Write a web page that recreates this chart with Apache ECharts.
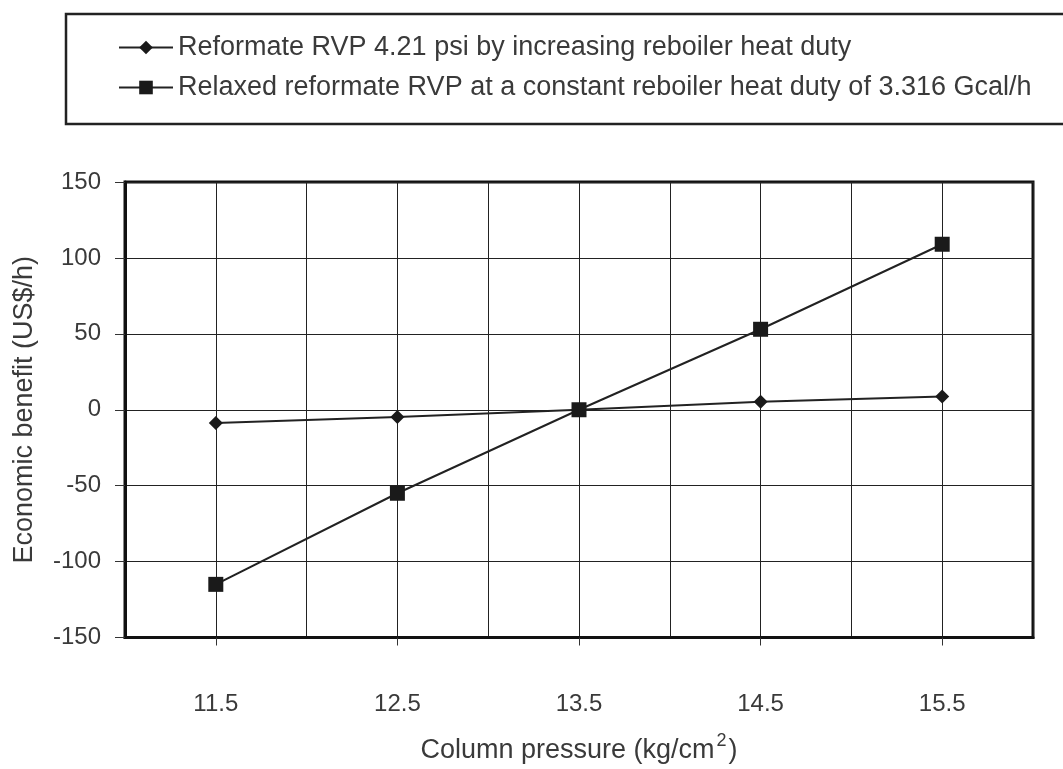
<!DOCTYPE html>
<html>
<head>
<meta charset="utf-8">
<script src="https://cdn.jsdelivr.net/npm/echarts@6/dist/echarts.min.js"></script>
<style>
html,body{margin:0;padding:0;background:#fff;}
#c{width:1063px;height:769px;}
</style>
</head>
<body>
<div id="c"></div>
<script>
const categories = ['11.5', '12.5', '13.5', '14.5', '15.5'];
const seriesNames = [
  'Reformate RVP 4.21 psi by increasing reboiler heat duty',
  'Relaxed reformate RVP at a constant reboiler heat duty of 3.316 Gcal/h'
];
const rvpFixed = [-8.7, -4.8, 0, 5.2, 8.7];
const rvpRelaxed = [-115, -55, 0, 53, 109];
const yTicks = [-150, -100, -50, 0, 50, 100, 150];

const font = 'Liberation Sans, Arial, sans-serif';
const txt = '#3a3a3a';
const chart = echarts.init(document.getElementById('c'));
chart.setOption({
  backgroundColor: '#fff',
  animation: false,
  legend: {
    left: 66, top: 14, orient: 'vertical',
    padding: [20, 120, 23, 52],
    itemGap: 13, itemWidth: 54, itemHeight: 17,
    borderColor: '#222', borderWidth: 2.5,
    textStyle: { fontSize: 27, fontFamily: font, color: txt },
    data: seriesNames
  },
  grid: {
    left: 125, right: 30, top: 182, bottom: 129,
    show: true, borderColor: '#111', borderWidth: 3, backgroundColor: 'transparent'
  },
  xAxis: [
    {
      type: 'category', data: categories, boundaryGap: true, position: 'bottom',
      axisLine: { show: true, onZero: false, lineStyle: { color: '#111', width: 3 } },
      axisTick: { show: true, alignWithLabel: true, length: 8, lineStyle: { color: '#333' } },
      axisLabel: { margin: 55, fontSize: 24, fontFamily: font, color: txt },
      splitLine: { show: false },
      name: 'Column pressure (kg/cm{sup|2})',
      nameLocation: 'middle', nameGap: 95,
      nameTextStyle: {
        fontSize: 27, fontFamily: font, color: txt,
        rich: { sup: { fontSize: 18, fontFamily: font, color: txt, verticalAlign: 'top', padding: [0, 2, 18, 2] } }
      }
    },
    {
      type: 'value', min: 11, max: 16, interval: 0.5, position: 'top',
      axisLine: { show: false, onZero: false }, axisTick: { show: false }, axisLabel: { show: false },
      splitLine: { show: true, lineStyle: { color: '#222', width: 1 } }
    }
  ],
  yAxis: {
    type: 'value', min: yTicks[0], max: yTicks[yTicks.length - 1], interval: 50,
    axisLine: { show: true, onZero: false, lineStyle: { color: '#111', width: 3 } },
    axisTick: { show: true, length: 10, lineStyle: { color: '#333' } },
    axisLabel: { margin: 24, fontSize: 24, fontFamily: font, color: txt },
    splitLine: { show: true, lineStyle: { color: '#222', width: 1 } },
    name: 'Economic benefit (US$/h)',
    nameLocation: 'middle', nameGap: 87,
    nameTextStyle: { fontSize: 27, fontFamily: font, color: txt }
  },
  series: [
    {
      name: seriesNames[0], type: 'line', xAxisIndex: 0, data: rvpFixed,
      symbol: 'diamond', symbolSize: 14,
      itemStyle: { color: '#1a1a1a' },
      lineStyle: { color: '#222', width: 2 },
      z: 5
    },
    {
      name: seriesNames[1], type: 'line', xAxisIndex: 0, data: rvpRelaxed,
      symbol: 'rect', symbolSize: 15,
      itemStyle: { color: '#1a1a1a' },
      lineStyle: { color: '#222', width: 2 },
      z: 6
    }
  ]
});
</script>
</body>
</html>
